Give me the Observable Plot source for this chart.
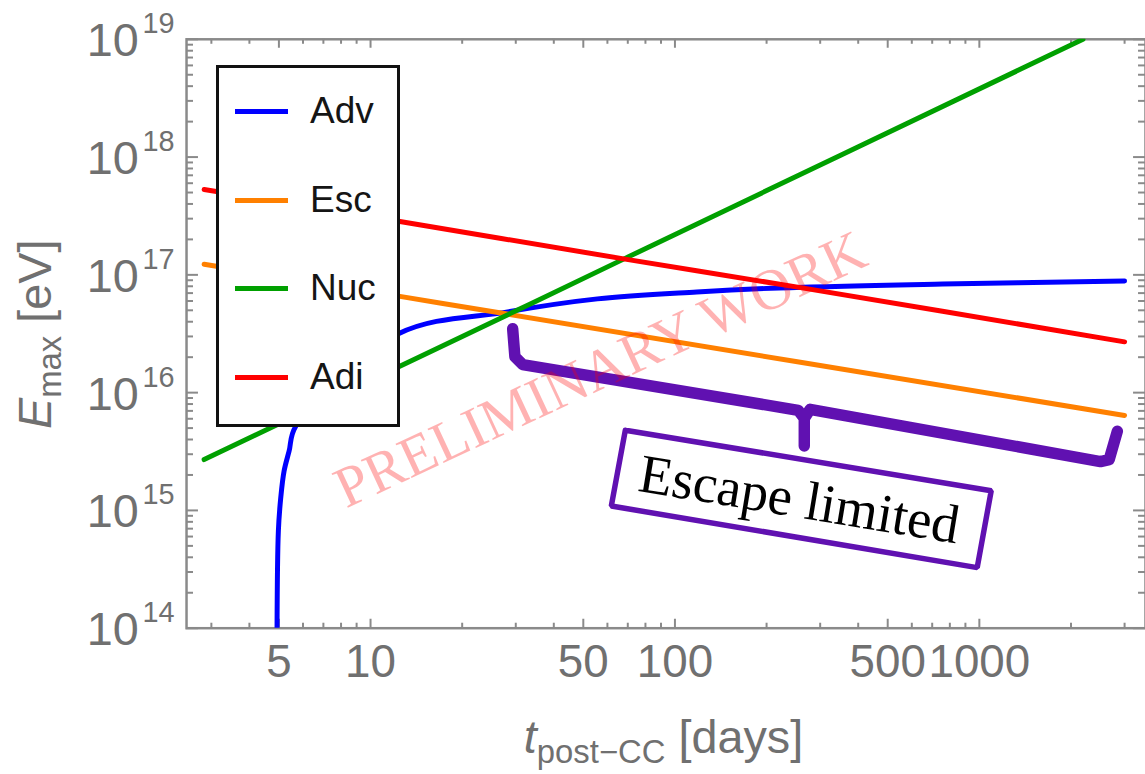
<!DOCTYPE html>
<html><head><meta charset="utf-8">
<script src="https://cdn.jsdelivr.net/npm/d3@7"></script>
<script src="https://cdn.jsdelivr.net/npm/@observablehq/plot@0.6"></script>
<style>
html,body{margin:0;padding:0;overflow:hidden;background:#fff;}
#wrap{position:relative;width:1145px;height:774px;overflow:hidden;}
#legend{position:absolute;left:216px;top:65px;width:178px;height:356px;border:3px solid #111;background:#fff;font-family:"Liberation Sans",Arial,sans-serif;}
.entry{position:absolute;left:0;height:50px;display:flex;align-items:center;}
.sw{margin-left:16px;width:53px;height:5px;}
.lab{margin-left:22px;font-size:37px;line-height:50px;color:#151515;}
</style></head>
<body><div id="wrap"></div>
<script>
// ---- data ----
const seriesNames  = ["Adv", "Esc", "Nuc", "Adi"];
const seriesColors = ["#0000ff", "#ff8000", "#00a000", "#ff0000"];

const advT = [4.93, 4.98, 5.07, 5.20, 5.40, 5.68, 12.35, 28.2, 55.6, 118, 220, 757, 3000];
const advE = [1e14, 6.7e14, 1.28e15, 2.16e15, 3.18e15, 5.19e15, 3.16e16, 4.85e16, 6.25e16, 7.16e16, 7.74e16, 8.36e16, 8.87e16];

const escT = [2.84, 12.35, 27.8, 3000];
const escE = [1.23e17, 6.6e16, 4.67e16, 6.4e15];

const nucT = [2.84, 14.4, 27.8, 68.6, 2190];
const nucE = [2.7e15, 2.0e16, 4.5e16, 1.38e17, 1e19];

const adiT = [2.84, 12.35, 68.6, 250, 3000];
const adiE = [5.3e17, 2.85e17, 1.36e17, 7.9e16, 2.7e16];

// axes
const xDomain = [2.486, 3514];
const yDomain = [1e14, 1e19];
const yTickExps = [14, 15, 16, 17, 18, 19];
const xTickLabels = [5, 10, 50, 100, 500, 1000];
const xMinorTicks = [3, 4, 6, 7, 8, 9, 20, 30, 40, 60, 70, 80, 90, 200, 300, 400, 600, 700, 800, 900, 2000, 3000];

// annotations (data coordinates)
const braceT = [29.3, 29.8, 31.6, 254, 266, 266, 266, 278, 2500, 2670, 2840];
const braceE = [3.49e16, 2.02e16, 1.73e16, 7.08e15, 6.05e15, 3.52e15, 6.05e15, 7.21e15, 2.6e15, 2.7e15, 4.7e15];
const boxT = [68.7, 1094, 984, 61.8, 68.7];
const boxE = [4.8e15, 1.47e15, 3.27e14, 1.09e15, 4.8e15];
const boxLabel = {t: 256, E: 1.23e15, text: "Escape limited"};
const watermark = {t: 56.9, E: 1.57e16, text: "PRELIMINARY WORK"};

// ---- chart ----
const W = 1151, H = 774, ML = 187, MR = 0, MT = 39, MB = 143;
const FW = W - ML - MR, FH = H - MT - MB;
const gray = "#8a8a8a", labelGray = "#707070", purple = "#6011b1";
const sans = "'Liberation Sans', Arial, sans-serif", serif = "'Liberation Serif', 'Times New Roman', serif";

const yMajor = yTickExps.map(e => 10 ** e);
const yMinor = [];
for (const e of yTickExps.slice(0, -1)) for (let k = 2; k <= 9; k++) yMinor.push(k * 10 ** e);

const rows = (name, T, E) => T.map((t, i) => ({series: name, t, E: E[i]}));
const lineData = [
  ...rows("Adv", advT, advE),
  ...rows("Esc", escT, escE),
  ...rows("Nuc", nucT, nucE),
  ...rows("Adi", adiT, adiE)
];
const brace = braceT.map((t, i) => ({t, E: braceE[i]}));
const box = boxT.map((t, i) => ({t, E: boxE[i]}));

const chart = Plot.plot({
  width: W, height: H,
  marginLeft: ML, marginRight: MR, marginTop: MT, marginBottom: MB,
  x: {type: "log", domain: xDomain, axis: null},
  y: {type: "log", domain: yDomain, axis: null},
  color: {domain: seriesNames, range: seriesColors},
  style: {background: "white", fontFamily: sans, overflow: "visible"},
  marks: [
    Plot.frame({stroke: gray, strokeWidth: 2.5}),
    // y ticks (left & right, inward)
    Plot.tickY(yMajor, {y: d => d, insetRight: FW - 12, stroke: gray, strokeWidth: 2}),
    Plot.tickY(yMinor, {y: d => d, insetRight: FW - 7, stroke: gray, strokeWidth: 2}),
    Plot.tickY(yMajor, {y: d => d, insetLeft: FW - 12, stroke: gray, strokeWidth: 2}),
    Plot.tickY(yMinor, {y: d => d, insetLeft: FW - 7, stroke: gray, strokeWidth: 2}),
    // x ticks (bottom & top, inward)
    Plot.tickX(xTickLabels, {x: d => d, insetTop: FH - 9, stroke: gray, strokeWidth: 2}),
    Plot.tickX(xMinorTicks, {x: d => d, insetTop: FH - 5, stroke: gray, strokeWidth: 2}),
    Plot.tickX(xTickLabels, {x: d => d, insetBottom: FH - 9, stroke: gray, strokeWidth: 2}),
    Plot.tickX(xMinorTicks, {x: d => d, insetBottom: FH - 5, stroke: gray, strokeWidth: 2}),
    // tick labels
    Plot.text(yTickExps, {y: d => 10 ** d, frameAnchor: "left", dx: -48, dy: 17, text: () => "10",
      textAnchor: "end", lineAnchor: "bottom", fontSize: 47, fill: labelGray}),
    Plot.text(yTickExps, {y: d => 10 ** d, frameAnchor: "left", dx: -12, dy: -6, text: d => String(d),
      textAnchor: "end", lineAnchor: "bottom", fontSize: 29, fill: labelGray}),
    Plot.text(xTickLabels, {x: d => d, frameAnchor: "bottom", dy: 49, text: d => String(d),
      lineAnchor: "bottom", fontSize: 46, fill: labelGray}),
    // data lines
    Plot.line(lineData, {x: "t", y: "E", z: "series", stroke: "series", strokeWidth: 5,
      curve: "catmull-rom", clip: true}),
    // annotations
    Plot.line(brace, {x: "t", y: "E", stroke: purple, strokeWidth: 11.5,
      strokeLinejoin: "round", strokeLinecap: "round"}),
    Plot.line(box, {x: "t", y: "E", stroke: purple, strokeWidth: 5.5, fill: "white",
      strokeLinejoin: "miter"}),
    Plot.text([boxLabel], {x: "t", y: "E", text: "text", rotate: 9.4, fontSize: 55,
      fontFamily: serif, fill: "black", lineAnchor: "middle"}),
    Plot.text([watermark], {x: "t", y: "E", text: "text", rotate: -25, fontSize: 58,
      fontFamily: serif, fill: "#ff0000", fillOpacity: 0.3, lineAnchor: "middle"})
  ]
});

// axis titles with sub-scripts
const svg = d3.select(chart);
const yl = svg.append("text")
  .attr("transform", "translate(51,336) rotate(-90)")
  .attr("text-anchor", "middle").attr("fill", labelGray)
  .attr("font-family", sans).attr("font-size", 47);
yl.append("tspan").attr("font-style", "italic").text("E");
yl.append("tspan").attr("font-size", 33).attr("dy", 10).text("max");
yl.append("tspan").attr("dy", -10).text(" [eV]");

const xl = svg.append("text")
  .attr("x", 667).attr("y", 757)
  .attr("text-anchor", "middle").attr("fill", labelGray)
  .attr("font-family", sans).attr("font-size", 47);
xl.append("tspan").attr("font-style", "italic").text("t");
xl.append("tspan").attr("font-size", 33).attr("dy", 10).text("post\u2212CC");
xl.append("tspan").attr("dy", -10).text(" [days]");

const wrap = document.getElementById("wrap");
wrap.appendChild(chart);

// legend overlay built from the series arrays
const legend = document.createElement("div");
legend.id = "legend";
const entryCenters = [43, 132, 220, 309];
seriesNames.forEach((name, i) => {
  const e = document.createElement("div");
  e.className = "entry";
  e.style.top = (entryCenters[i] - 25) + "px";
  const sw = document.createElement("div");
  sw.className = "sw"; sw.style.background = seriesColors[i];
  const lab = document.createElement("span");
  lab.className = "lab"; lab.textContent = name;
  e.appendChild(sw); e.appendChild(lab);
  legend.appendChild(e);
});
wrap.appendChild(legend);
</script>
</body></html>
